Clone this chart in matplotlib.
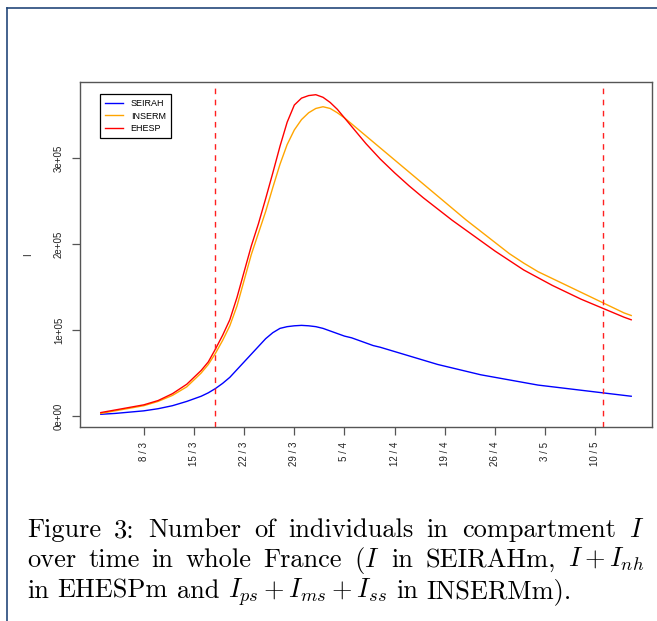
import matplotlib
matplotlib.use("Agg")
import matplotlib.pyplot as plt
from matplotlib.lines import Line2D

plt.rcParams.update({
    "font.family": ["Liberation Sans", "DejaVu Sans"],
    "mathtext.fontset": "cm",
})

# days counted from 1 March (day 0)
days = [1, 3, 5, 7, 9, 11, 13,
        15, 16, 17, 18, 19, 20, 21, 22, 23, 24, 25, 26, 27, 28, 29, 30, 31, 32,
        33, 34, 35, 36, 37, 38, 39, 40,
        42, 44, 46, 48, 50, 52, 54, 56, 58, 60, 62, 64, 66, 68, 70, 72, 74, 75]

seirah = [2000, 3000, 4500, 6000, 8500, 12000, 17000,
          23000, 27000, 32000, 38000, 45000, 54000, 63000, 72000, 81000, 90000,
          97000, 102000, 104000, 105000, 105500, 105000, 104000, 102000, 99000,
          96000, 93000, 91000, 88000, 85000, 82000, 80000,
          75000, 70000, 65000, 60000, 56000, 52000, 48000, 45000, 42000, 39000,
          36000, 34000, 32000, 30000, 28000, 26000, 24000, 23000]

inserm = [3000, 6000, 9000, 12000, 17000, 24000, 34000,
          50000, 60000, 73000, 88000, 105000, 128000, 158000, 188000, 213000,
          238000, 266000, 293000, 316000, 333000, 345000, 353000, 358000, 360000,
          358000, 353000, 347000, 340000, 333000, 326000, 319000, 312000,
          298000, 284000, 270000, 256000, 242000, 228000, 215000, 202000, 189000,
          178000, 168000, 160000, 152000, 144000, 136000, 128000, 120000, 117000]

ehesp = [4000, 7000, 10000, 13000, 18000, 26000, 37000,
         53000, 63000, 78000, 94000, 112000, 138000, 168000, 198000, 224000,
         253000, 283000, 314000, 342000, 362000, 370000, 373000, 374000, 371000,
         365000, 357000, 347000, 337000, 327000, 317000, 308000, 299000,
         283000, 268000, 254000, 241000, 228000, 216000, 204000, 192000, 181000,
         170000, 161000, 152000, 144000, 136000, 129000, 122000, 115000, 112000]

tick_days = [7, 14, 21, 28, 35, 42, 49, 56, 63, 70]
tick_labels = ["8 / 3", "15 / 3", "22 / 3", "29 / 3", "5 / 4",
               "12 / 4", "19 / 4", "26 / 4", "3 / 5", "10 / 5"]
y_ticks = [0, 100000, 200000, 300000]
y_labels = ["0e+00", "1e+05", "2e+05", "3e+05"]
lockdown_days = [17, 71]

fig = plt.figure(figsize=(6.57, 6.21), dpi=100)
W, H = 657, 621

# page frame lines (top and left)
fig.add_artist(Line2D([7 / W, 1], [1 - 8 / H, 1 - 8 / H], color="#24487a", lw=1.2))
fig.add_artist(Line2D([7 / W, 7 / W], [0, 1 - 8 / H], color="#24487a", lw=1.2))

ax = fig.add_axes([80 / W, 1 - 427 / H, 572 / W, 345 / H])
ax.plot(days, seirah, color="#0000ff", lw=1.0, label="SEIRAH")
ax.plot(days, inserm, color="#ffa500", lw=1.0, label="INSERM")
ax.plot(days, ehesp, color="#ff0000", lw=1.0, label="EHESP")
for d in lockdown_days:
    ax.axvline(d, color="#ff2020", lw=1.0, linestyle=(0, (4, 4)))

ax.set_xlim(-1.9, 77.9)
ax.set_ylim(-12800, 388800)
ax.set_xticks(tick_days)
ax.set_xticklabels(tick_labels, rotation=90, fontsize=7)
ax.set_yticks(y_ticks)
ax.set_yticklabels(y_labels, rotation=90, va="center", fontsize=7)
ax.tick_params(axis="both", direction="out", length=5.5, width=0.9,
               color="#555555", labelcolor="#222222")
ax.tick_params(axis="x", pad=5)
ax.tick_params(axis="y", pad=6)
for s in ax.spines.values():
    s.set_color("#555555")
    s.set_linewidth(1.0)

ax.set_ylabel("I", fontsize=7, color="#222222")
ax.yaxis.set_label_coords(-0.082, 0.5)

leg = ax.legend(loc="upper left", bbox_to_anchor=(0.035, 0.965), borderaxespad=0,
                fontsize=6.5, frameon=True, fancybox=False, framealpha=1,
                edgecolor="black", handlelength=1.9, handletextpad=0.9,
                labelspacing=0.35, borderpad=0.6)
leg.get_frame().set_linewidth(0.9)

# caption, justified like the LaTeX page
cap_size = 19
caption_lines = [
    (["Figure", "3:", "Number", "of", "individuals", "in", "compartment", "$I$"], 537, True),
    (["over", "time", "in", "whole", "France", "($I$", "in", "SEIRAHm,", "$I+I_{nh}$"], 567, True),
    (["in", "EHESPm", "and", "$I_{ps}+I_{ms}+I_{ss}$", "in", "INSERMm)."], 598, False),
]
x_left, x_right = 27, 644
renderer = fig.canvas.get_renderer()
for words, ybase, justify in caption_lines:
    texts = [fig.text(0, 1 - ybase / H, w, family="cmr10", fontsize=cap_size,
                      va="baseline", ha="left") for w in words]
    widths = [t.get_window_extent(renderer).width for t in texts]
    if justify:
        gap = (x_right - x_left - sum(widths)) / (len(words) - 1)
    else:
        gap = cap_size * 100 / 72 * 0.333
    x = x_left
    for t, w in zip(texts, widths):
        t.set_x(x / W)
        x += w + gap

fig.savefig("out.png", dpi=100)
